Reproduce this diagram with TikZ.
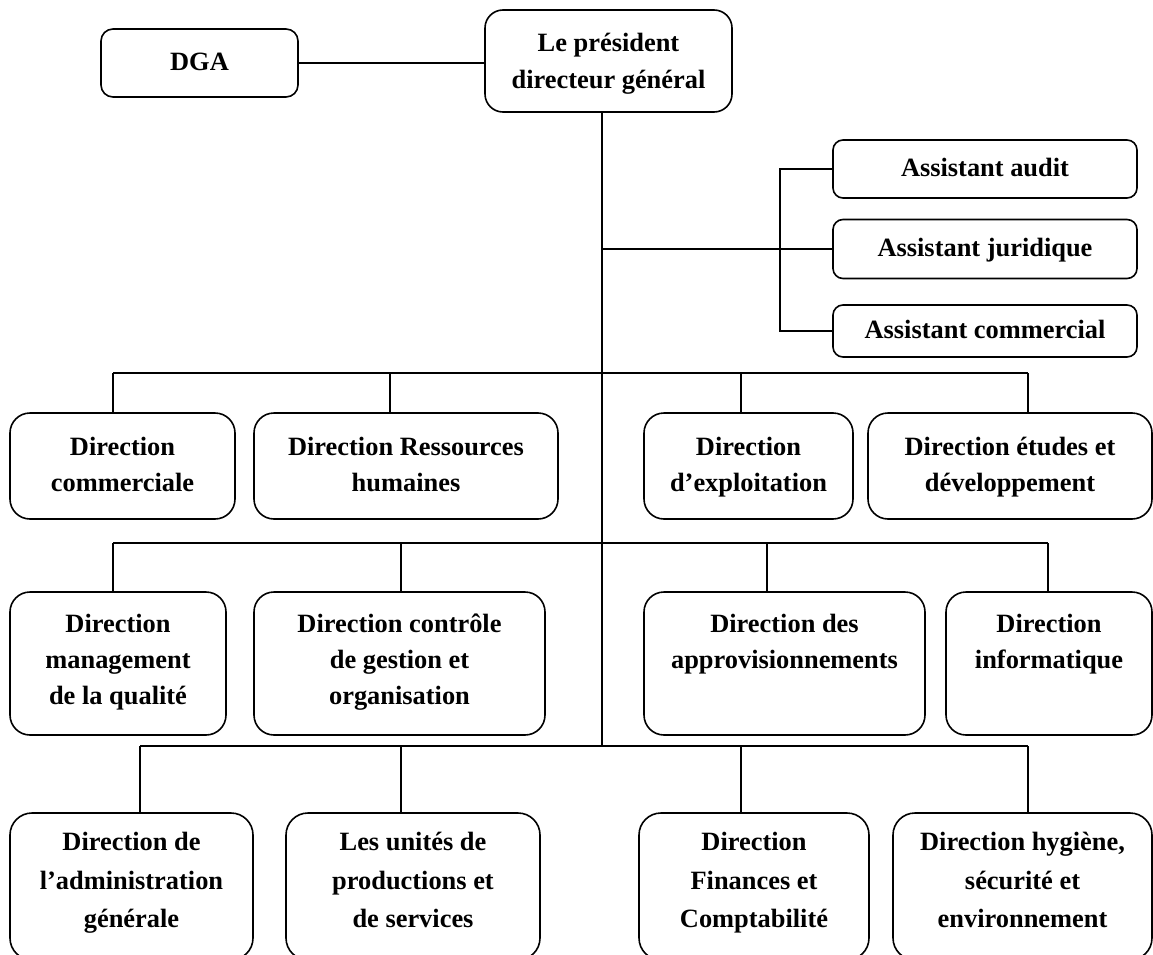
\documentclass[tikz,border=0pt]{standalone}
\usepackage{fontspec}
\setmainfont{Liberation Serif}
% extra room above the first text line of a box
\newcommand{\headroom}[1]{\rule{0pt}{#1}}
\begin{document}
\begin{tikzpicture}[x=1pt,y=-1pt,
  unit/.style={draw, line width=1.6pt, rounded corners=20pt, align=center,
    inner sep=0pt, font=\fontsize{26.4}{36}\selectfont\bfseries,
    execute at end node=\strut},
  assist/.style={unit, rounded corners=10pt, minimum width=304pt},
  toprow/.style={unit, minimum height=106pt},
  midrow/.style={unit, minimum height=143pt},
  lowrow/.style={unit, rounded corners=22pt, minimum height=147pt,
    font=\fontsize{26.4}{38.5}\selectfont\bfseries,
    execute at end node={\rule[-14pt]{0pt}{1pt}}},
  link/.style={line width=1.6pt}]
\useasboundingbox (0,0) rectangle (1153,955);
\clip (0,0) rectangle (1153,955);
\fill[white] (0,0) rectangle (1153,955);

% top management
\node[unit, rounded corners=12pt, minimum width=197pt, minimum height=68pt] (dga) at (199.5,63) {\headroom{25pt}DGA};
\node[unit, rounded corners=18pt, minimum width=247pt, minimum height=102pt,
  font=\fontsize{26.4}{37}\selectfont\bfseries] (pdg) at (608.5,61) {\headroom{30pt}Le président\\directeur général};

% assistants
\node[assist, minimum height=58pt] (audit) at (985,169) {\headroom{25pt}Assistant audit};
\node[assist, minimum height=59pt] (jur) at (985,249) {\headroom{25pt}Assistant juridique};
\node[assist, minimum height=52pt] (comm) at (985,331) {\headroom{25pt}Assistant commercial};

% first row of directions
\node[toprow, minimum width=225pt] (n11) at (122.5,466) {\headroom{25pt}Direction\\commerciale};
\node[toprow, minimum width=304pt] (n12) at (406,466) {\headroom{25pt}Direction Ressources\\humaines};
\node[toprow, minimum width=209pt] (n13) at (748.5,466) {\headroom{25pt}Direction\\d’exploitation};
\node[toprow, minimum width=284pt] (n14) at (1010,466) {\headroom{25pt}Direction études et\\développement};

% second row
\node[midrow, minimum width=216pt] (n21) at (118,663.5) {\headroom{21pt}Direction\\management\\de la qualité};
\node[midrow, minimum width=291pt] (n22) at (399.5,663.5) {\headroom{21pt}Direction contrôle\\de gestion et\\organisation};
\node[midrow, minimum width=281pt] (n23) at (784.5,663.5) {\headroom{21pt}Direction des\\approvisionnements\\};
\node[midrow, minimum width=206pt] (n24) at (1049,663.5) {\headroom{21pt}Direction\\informatique\\};

% third row
\node[lowrow, minimum width=243pt] (n31) at (131.5,886.5) {\headroom{19pt}Direction de\\l’administration\\générale};
\node[lowrow, minimum width=254pt] (n32) at (413,886.5) {\headroom{19pt}Les unités de\\productions et\\de services};
\node[lowrow, minimum width=230pt] (n33) at (754,886.5) {\headroom{19pt}Direction\\Finances et\\Comptabilité};
\node[lowrow, minimum width=259pt] (n34) at (1022.5,886.5) {\headroom{19pt}Direction hygiène,\\sécurité et\\environnement};

% junction points
\coordinate (trunk) at (602,0);
\coordinate (ax) at (780,0);
\coordinate (r1a) at (113,373);
\coordinate (r1b) at (390,373);
\coordinate (r1c) at (741,373);
\coordinate (r1d) at (1028,373);
\coordinate (r2a) at (113,543);
\coordinate (r2b) at (401,543);
\coordinate (r2c) at (767,543);
\coordinate (r2d) at (1048,543);
\coordinate (r3a) at (140,746);
\coordinate (r3b) at (401,746);
\coordinate (r3c) at (741,746);
\coordinate (r3d) at (1028,746);

% connectors
\draw[link] (dga.east) -- (dga.east -| pdg.west);
\draw[link] (pdg.south -| trunk) -- (trunk |- r3a);
\draw[link] (trunk |- jur.west) -- (jur.west);
\draw[link] (audit.west) -- (audit.west -| ax) -- (comm.west -| ax) -- (comm.west);

\draw[link] (r1a) -- (r1d);
\foreach \p/\n in {r1a/n11, r1b/n12, r1c/n13, r1d/n14}
  \draw[link] (\p) -- (\p |- \n.north);
\draw[link] (r2a) -- (r2d);
\foreach \p/\n in {r2a/n21, r2b/n22, r2c/n23, r2d/n24}
  \draw[link] (\p) -- (\p |- \n.north);
\draw[link] (r3a) -- (r3d);
\foreach \p/\n in {r3a/n31, r3b/n32, r3c/n33, r3d/n34}
  \draw[link] (\p) -- (\p |- \n.north);
\end{tikzpicture}
\end{document}
